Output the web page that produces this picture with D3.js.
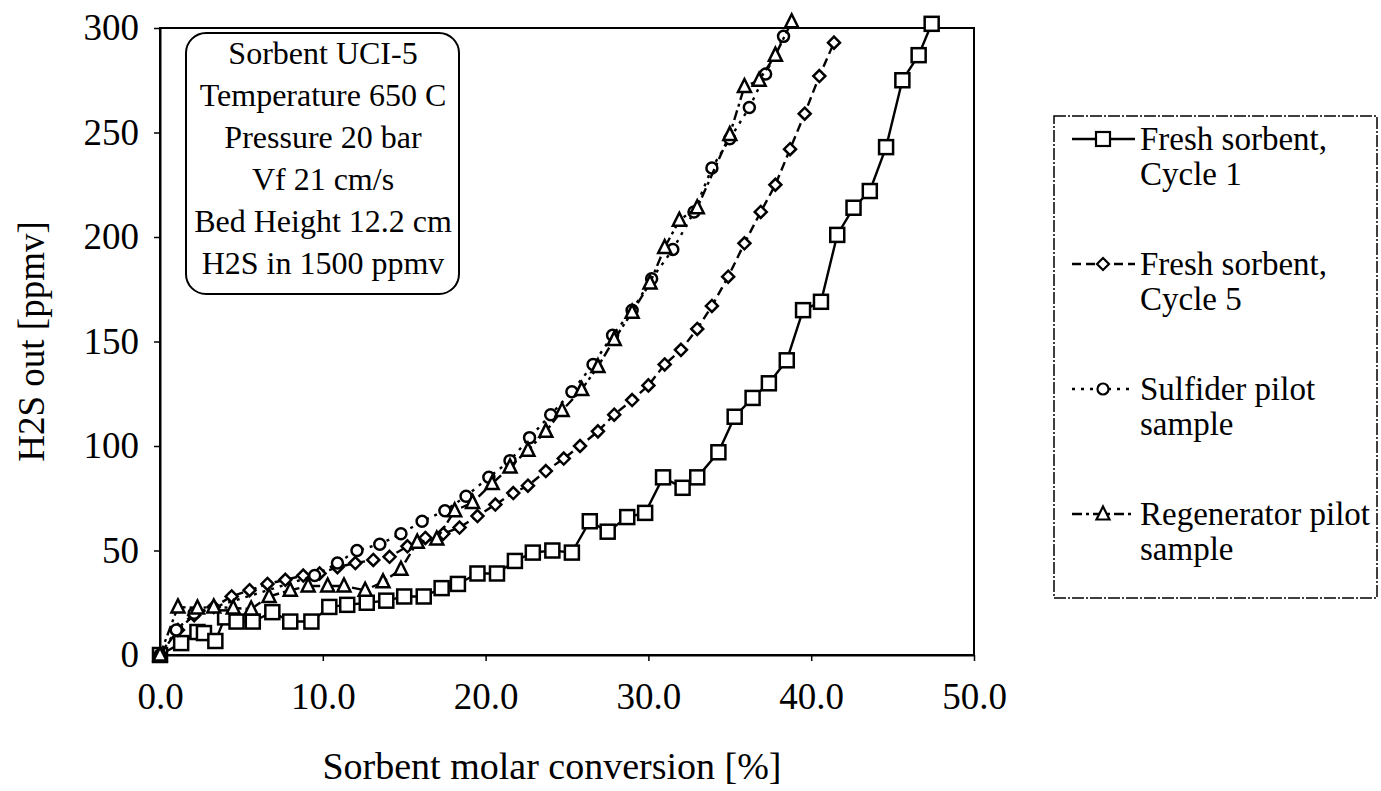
<!DOCTYPE html>
<html><head><meta charset="utf-8">
<script src="https://cdn.jsdelivr.net/npm/d3@7"></script>
<style>body{margin:0;background:#fff}svg{display:block}text{font-family:"Liberation Serif","Times New Roman",serif;fill:#000}</style>
</head><body>
<svg id="c" width="1381" height="791"></svg>
<script>
// ---- data ----
const cycle1X = [0,1.3,2.3,2.7,3.4,4.0,4.7,5.7,6.9,8.0,9.3,10.4,11.5,12.7,13.9,15.0,16.2,17.3,18.3,19.5,20.7,21.8,22.9,24.1,25.3,26.4,27.5,28.7,29.8,30.9,32.1,33.0,34.3,35.3,36.4,37.4,38.5,39.5,40.6,41.6,42.6,43.6,44.6,45.6,46.6,47.4];
const cycle1Y = [0,5.7,11,10.5,6.7,18,16,16,20.5,16,16,23,24,25,26,28,28,32,34,39,39,45,49,50,49,64,59,66,68,85,80,85,97,114,123,130,141,165,169,201,214,222,243,275,287,302];
const cycle5X = [0,1.1,2.1,3.3,4.4,5.5,6.6,7.7,8.8,9.8,10.9,12.0,13.1,14.1,15.2,16.3,17.4,18.4,19.5,20.6,21.7,22.6,23.7,24.8,25.8,26.9,27.9,29.0,30.0,31.0,32.0,33.0,33.9,34.9,35.9,36.9,37.8,38.7,39.6,40.5,41.4];
const cycle5Y = [0,12,19,23,28,31,34,36,38,39,42,44,45.5,47,52,56,58,61,66.5,72,77.5,81,88,94,100,107,115,122,129,139,146,156,167,181,197,212,225,242,259,277,293];
const sulfX = [0,1.0,2.1,9.5,10.9,12.1,13.5,14.8,16.1,17.5,18.8,20.2,21.5,22.7,24.0,25.3,26.6,27.8,29.0,30.2,31.5,32.8,33.9,35.0,36.2,37.2,38.3];
const sulfY = [0,12,20,38,44,50,53,58,64,69,76,85,93,104,115,126,139,153,165,180,194,212,233,247,262,278,296];
const regenX = [0,1.1,2.3,3.3,4.5,5.6,6.7,8.0,9.1,10.3,11.3,12.6,13.7,14.8,15.8,17.0,18.1,19.2,20.4,21.5,22.6,23.7,24.7,25.9,26.9,27.9,29.0,30.1,31.0,31.9,33.0,35.0,35.9,36.8,37.8,38.8];
const regenY = [0,23,22.5,23,22.5,22,28,31,33,33,33,31,35,41,54,55.5,69,73,82,90,98,107,117,127,138,151,164,178,195,208,214,249,272,275,287,303];
const seriesNames = [["Fresh sorbent,","Cycle 1"],["Fresh sorbent,","Cycle 5"],["Sulfider pilot","sample"],["Regenerator pilot","sample"]];
const xTicks = [0,10,20,30,40,50];
const yTicks = [0,50,100,150,200,250,300];
const infoLines = ["Sorbent UCI-5","Temperature 650 C","Pressure 20 bar","Vf  21 cm/s","Bed Height 12.2 cm","H2S in 1500 ppmv"];

// ---- chart ----
const svg = d3.select("#c");
const L=160,R=974,T=28,B=655;
const x = d3.scaleLinear().domain([0,50]).range([L,R]);
const y = d3.scaleLinear().domain([0,300]).range([B,T]);

svg.append("rect").attr("x",L).attr("y",T).attr("width",R-L).attr("height",B-T)
  .attr("fill","none").attr("stroke","#000").attr("stroke-width",2);

const xa = svg.append("g").attr("transform",`translate(0,${B})`)
  .call(d3.axisBottom(x).tickValues(xTicks).tickFormat(d3.format(".1f")).tickSizeInner(6).tickSizeOuter(0).tickPadding(22));
const ya = svg.append("g").attr("transform",`translate(${L},0)`)
  .call(d3.axisLeft(y).tickValues(yTicks).tickSizeInner(6).tickSizeOuter(0).tickPadding(15));
[xa,ya].forEach(g=>{
  g.select(".domain").attr("stroke","#000").attr("stroke-width",2);
  g.selectAll(".tick line").attr("stroke","#000").attr("stroke-width",1.5);
  g.selectAll("text").style("font-family","Liberation Serif").style("font-size","37px").attr("fill","#000");
});

svg.append("text").attr("x",(L+R)/2-15).attr("y",779).attr("text-anchor","middle")
  .style("font-size","38px").text("Sorbent molar conversion [%]");
svg.append("text").attr("transform",`translate(44,${(T+B)/2}) rotate(-90)`).attr("text-anchor","middle")
  .style("font-size","37px").text("H2S out [ppmv]");

const defs = [
  {xs:cycle1X, ys:cycle1Y, dash:null, sym:"square"},
  {xs:cycle5X, ys:cycle5Y, dash:"9,5", sym:"diamond"},
  {xs:sulfX, ys:sulfY, dash:"3,6", sym:"circle"},
  {xs:regenX, ys:regenY, dash:"10,4,3,4", sym:"triangle"}
];
const line = d3.line().x(d=>x(d[0])).y(d=>y(d[1]));
function drawSym(g, sym, cx, cy){
  if(sym==="square") g.append("rect").attr("x",cx-7).attr("y",cy-7).attr("width",14).attr("height",14);
  else if(sym==="diamond") g.append("path").attr("d",`M${cx},${cy-6}L${cx+6},${cy}L${cx},${cy+6}L${cx-6},${cy}Z`);
  else if(sym==="circle") g.append("circle").attr("cx",cx).attr("cy",cy).attr("r",5.5);
  else g.append("path").attr("d",`M${cx},${cy-7.5}L${cx+6.5},${cy+5.5}L${cx-6.5},${cy+5.5}Z`);
}
defs.forEach(s=>{
  const pts = s.xs.map((v,i)=>[v,s.ys[i]]);
  svg.append("path").datum(pts).attr("d",line).attr("fill","none").attr("stroke","#000")
    .attr("stroke-width",2.4).attr("stroke-dasharray",s.dash);
  const g = svg.append("g").attr("fill","#fff").attr("stroke","#000").attr("stroke-width",2.5);
  pts.forEach(p=>drawSym(g,s.sym,x(p[0]),y(p[1])));
});

svg.append("rect").attr("x",186).attr("y",33).attr("width",273).attr("height",261).attr("rx",20)
  .attr("fill","#fff").attr("stroke","#000").attr("stroke-width",2);
infoLines.forEach((t,i)=>svg.append("text").attr("x",323).attr("y",64+i*42).attr("text-anchor","middle")
  .style("font-size","32px").text(t));

svg.append("rect").attr("x",1054).attr("y",116).attr("width",323).attr("height",482)
  .attr("fill","none").attr("stroke","#000").attr("stroke-width",1.5).attr("stroke-dasharray","12,2,2,2");
seriesNames.forEach((nm,i)=>{
  const by = 150 + i*125;
  const ly = by - 11;
  svg.append("line").attr("x1",1072).attr("x2",1135).attr("y1",ly).attr("y2",ly)
    .attr("stroke","#000").attr("stroke-width",2.4).attr("stroke-dasharray",defs[i].dash);
  const g = svg.append("g").attr("fill","#fff").attr("stroke","#000").attr("stroke-width",2.2);
  drawSym(g,defs[i].sym,1103,ly);
  svg.append("text").attr("x",1140).attr("y",by).style("font-size","33px").text(nm[0]);
  svg.append("text").attr("x",1140).attr("y",by+35).style("font-size","33px").text(nm[1]);
});
</script>
</body></html>
